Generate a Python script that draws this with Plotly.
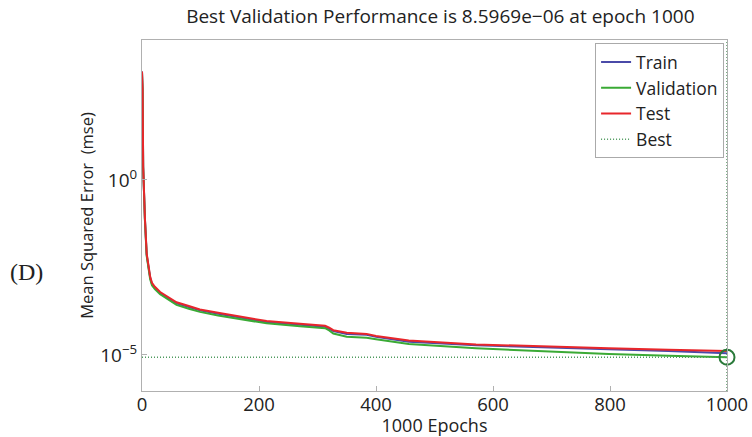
import plotly.graph_objects as go

epochs = [0, 1, 2, 3, 5, 8, 11, 14, 17, 22, 31, 45, 59, 80, 99, 130, 168, 213, 270, 313,
          320, 327, 350, 384, 400, 456, 571, 685, 798, 900, 1000]
test_mse = [1.26e3, 4.0e2, 2.5, 0.5, 7.9e-2, 7.9e-3, 3.2e-3, 1.7e-3, 1.15e-3, 8.9e-4, 6.3e-4,
            4.4e-4, 3.2e-4, 2.5e-4, 2.0e-4, 1.6e-4, 1.23e-4, 9.3e-5, 7.8e-5, 6.8e-5,
            6.0e-5, 5.1e-5, 4.3e-5, 4.0e-5, 3.5e-5, 2.6e-5, 2.0e-5, 1.74e-5, 1.55e-5, 1.41e-5, 1.29e-5]
train_mse = [1.26e3, 3.9e2, 2.4, 0.48, 7.6e-2, 7.4e-3, 3.0e-3, 1.6e-3, 1.08e-3, 8.3e-4, 5.9e-4,
             4.1e-4, 3.0e-4, 2.35e-4, 1.88e-4, 1.5e-4, 1.15e-4, 8.7e-5, 7.3e-5, 6.4e-5,
             5.6e-5, 4.8e-5, 4.0e-5, 3.75e-5, 3.3e-5, 2.4e-5, 1.88e-5, 1.62e-5, 1.45e-5, 1.3e-5, 1.12e-5]
val_mse = [1.2e3, 3.7e2, 2.3, 0.45, 7.0e-2, 6.8e-3, 2.8e-3, 1.45e-3, 9.8e-4, 7.6e-4, 5.4e-4,
           3.8e-4, 2.7e-4, 2.1e-4, 1.7e-4, 1.35e-4, 1.05e-4, 8.0e-5, 6.6e-5, 5.8e-5,
           5.0e-5, 4.1e-5, 3.3e-5, 3.1e-5, 2.8e-5, 2.05e-5, 1.55e-5, 1.26e-5, 1.07e-5, 9.5e-6, 8.5969e-6]
best_epoch = 1000
best_value = 8.5969e-06
x_ticks = [0, 200, 400, 600, 800, 1000]
y_ticks = [1, 1e-5]
y_tick_text = ["10<sup>0</sup>", "10<sup>−5</sup>"]
y_range_log = [-6.03, 4.0]

FONT = "Open Sans"
fig = go.Figure()
fig.add_trace(go.Scatter(x=epochs, y=train_mse, mode="lines", name="Train",
                         line=dict(color="#4a4aa8", width=2)))
fig.add_trace(go.Scatter(x=epochs, y=val_mse, mode="lines", name="Validation",
                         line=dict(color="#3aaa35", width=2)))
fig.add_trace(go.Scatter(x=epochs, y=test_mse, mode="lines", name="Test",
                         line=dict(color="#e8262b", width=2)))
fig.add_trace(go.Scatter(x=[0, best_epoch], y=[best_value, best_value], mode="lines", name="Best",
                         line=dict(color="#4e9a5e", width=1.5, dash="1px,2px")))
fig.add_trace(go.Scatter(x=[best_epoch, best_epoch], y=[10 ** y_range_log[0], 10 ** y_range_log[1]],
                         mode="lines", showlegend=False,
                         line=dict(color="#4e9a5e", width=1.5, dash="1px,2px")))
fig.add_trace(go.Scatter(x=[best_epoch], y=[best_value], mode="markers", showlegend=False,
                         cliponaxis=False,
                         marker=dict(symbol="circle-open", size=15, color="#2a7a3a",
                                     line=dict(width=2, color="#2a7a3a"))))

fig.update_layout(
    width=752, height=437,
    margin=dict(l=142, r=25, t=40, b=46, autoexpand=False),
    paper_bgcolor="white", plot_bgcolor="white",
    font=dict(family=FONT, color="#222222", size=17),
    title=dict(text="Best Validation Performance is 8.5969e−06 at epoch 1000",
               xref="paper", x=0.51, xanchor="center", yref="container", y=0.963, yanchor="middle",
               font=dict(size=19, family=FONT, color="#222222")),
    legend=dict(x=0.995, y=0.991, xanchor="right", yanchor="top",
                bgcolor="white", bordercolor="#aaaaaa", borderwidth=1,
                font=dict(size=17.5, family=FONT, color="#222222"),
                tracegroupgap=0, itemwidth=30),
    showlegend=True,
)
fig.update_xaxes(range=[0, 1000], tickvals=x_ticks, showgrid=False, zeroline=False,
                 showline=True, linecolor="#b0b0b0", linewidth=1, mirror=True,
                 ticks="inside", ticklen=5, tickcolor="#b0b0b0", automargin=False,
                 ticklabelstandoff=-3,
                 tickfont=dict(size=18.5, family=FONT, color="#222222"),
                 title=dict(text="1000 Epochs", standoff=0, font=dict(size=18, family=FONT)))
fig.update_yaxes(type="log", range=y_range_log, tickvals=y_ticks, ticktext=y_tick_text,
                 showgrid=False, zeroline=False,
                 showline=True, linecolor="#b0b0b0", linewidth=1, mirror=True,
                 ticks="inside", ticklen=5, tickcolor="#b0b0b0", automargin=False,
                 tickfont=dict(size=19, family=FONT, color="#222222"),
                 title=dict(text="Mean Squared Error  (mse)", standoff=2,
                            font=dict(size=16.5, family=FONT)))
fig.add_annotation(text="(D)", xref="paper", yref="paper", x=-0.197, y=0.339,
                   xanchor="center", yanchor="middle", showarrow=False,
                   font=dict(family="Liberation Serif", size=24, color="#222222"))
fig.write_html("out.html")
